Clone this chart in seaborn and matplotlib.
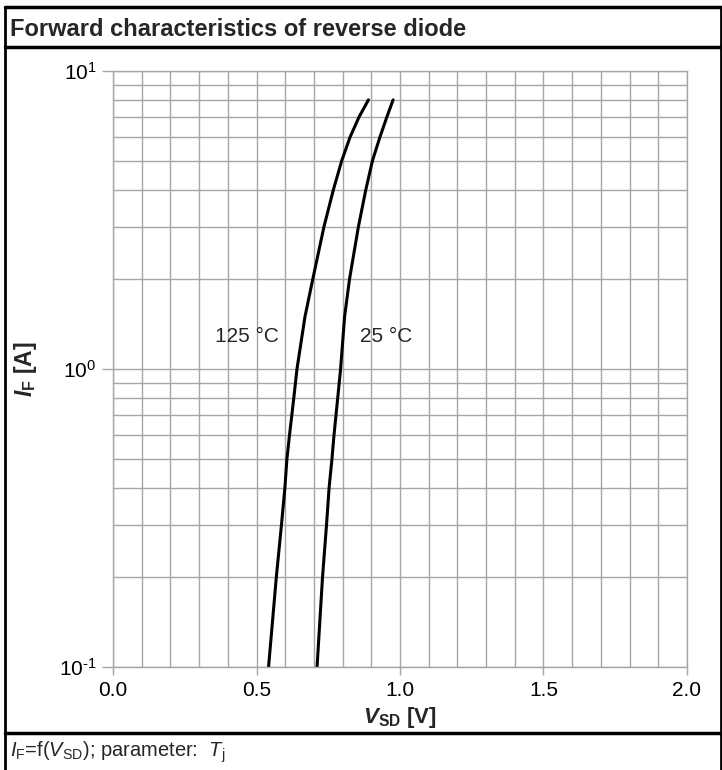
import numpy as np
import pandas as pd
import matplotlib
matplotlib.use("Agg")
import matplotlib.pyplot as plt
import matplotlib.ticker as mticker
from matplotlib.lines import Line2D
import seaborn as sns

# curve data
i_f = [0.1, 0.2, 0.3, 0.4, 0.5, 0.6, 0.8, 1.0, 1.5, 2.0, 3.0, 4.0, 5.0, 6.0, 7.0, 8.0]
v_125 = [0.542, 0.569, 0.587, 0.599, 0.606, 0.615, 0.630, 0.641, 0.669, 0.696,
         0.735, 0.768, 0.797, 0.826, 0.857, 0.890]
v_25 = [0.711, 0.730, 0.744, 0.753, 0.763, 0.770, 0.783, 0.793, 0.807, 0.824,
        0.855, 0.881, 0.904, 0.930, 0.954, 0.976]
x_ticks = [0.0, 0.5, 1.0, 1.5, 2.0]
y_ticks = [0.1, 1, 10]
y_tick_labels = [r"10$^{\text{-}1}$", r"10$^{0}$", r"10$^{1}$"]

df = pd.concat([
    pd.DataFrame({"V": v_125, "I": i_f, "T": "125 °C"}),
    pd.DataFrame({"V": v_25, "I": i_f, "T": "25 °C"}),
])

sns.set_theme(style="white")
plt.rcParams["font.family"] = ["Liberation Sans", "DejaVu Sans"]
plt.rcParams["mathtext.fontset"] = "custom"
plt.rcParams["mathtext.rm"] = "Liberation Sans"
plt.rcParams["mathtext.it"] = "Liberation Sans:italic"
plt.rcParams["mathtext.bf"] = "Liberation Sans:bold"
plt.rcParams["mathtext.bfit"] = "Liberation Sans:italic:bold"
plt.rcParams["axes.unicode_minus"] = False

W, H = 722, 770
fig = plt.figure(figsize=(W / 100, H / 100), dpi=100)
ax = fig.add_axes([113 / W, 1 - 667 / H, (687 - 113) / W, (667 - 71) / H])

grid_col = "#a6a6a6"

sns.lineplot(data=df, x="V", y="I", units="T", estimator=None, sort=False,
             color="black", linewidth=2.2, ax=ax, legend=False)

ax.set_yscale("log")
ax.set_xlim(0, 2.0)
ax.set_ylim(0.1, 10)
ax.set_xticks(x_ticks)
ax.xaxis.set_major_formatter(mticker.FormatStrFormatter("%.1f"))
ax.xaxis.set_minor_locator(mticker.MultipleLocator(0.1))
ax.set_yticks(y_ticks)
ax.set_yticklabels(y_tick_labels)
ax.yaxis.set_minor_locator(mticker.LogLocator(base=10, subs=np.arange(2, 10)))
ax.yaxis.set_minor_formatter(mticker.NullFormatter())

ax.grid(True, which="both", color=grid_col, linewidth=1.0)
ax.set_axisbelow(True)
for s in ax.spines.values():
    s.set_color(grid_col)
    s.set_linewidth(1.0)

ax.tick_params(axis="both", which="major", direction="out", color=grid_col,
               labelsize=15, labelcolor="black", width=1.0)
ax.tick_params(axis="x", which="major", length=6, bottom=True, pad=4)
ax.tick_params(axis="y", which="major", length=8, left=True, pad=4)
ax.tick_params(which="minor", length=0)

ax.set_xlabel(r"$\mathbfit{V}_{\mathbf{SD}}$ [V]", fontsize=16, fontweight="bold", labelpad=4)
ax.set_ylabel(r"$\mathbfit{I}_{\mathbf{F}}$ [A]", fontsize=16.5, fontweight="bold", labelpad=14)

ax.text(0.466, 1.29, "125 °C", fontsize=15, ha="center", va="center")
ax.text(0.952, 1.29, "25 °C", fontsize=15, ha="center", va="center")

# frame around the sheet
def hline(y, x0=5, x1=W, lw=2.5):
    fig.add_artist(Line2D([x0 / W, x1 / W], [1 - y / H, 1 - y / H],
                          transform=fig.transFigure, color="black", linewidth=lw))

def vline(x, y0=7, y1=H, lw=2.0):
    fig.add_artist(Line2D([x / W, x / W], [1 - y0 / H, 1 - y1 / H],
                          transform=fig.transFigure, color="black", linewidth=lw))

hline(7)
hline(47)
hline(733)
vline(5)
vline(W - 1)

fig.text(10 / W, 1 - 29 / H, "Forward characteristics of reverse diode",
         fontsize=17, fontweight="bold", ha="left", va="center")
fig.text(10 / W, 1 - 752 / H,
         r"$\mathit{I}_{\mathrm{F}}$=f($\mathit{V}_{\mathrm{SD}}$); parameter:  $\mathit{T}_{\mathrm{j}}$",
         fontsize=14.5, ha="left", va="center")

fig.savefig("out.png", dpi=100)
